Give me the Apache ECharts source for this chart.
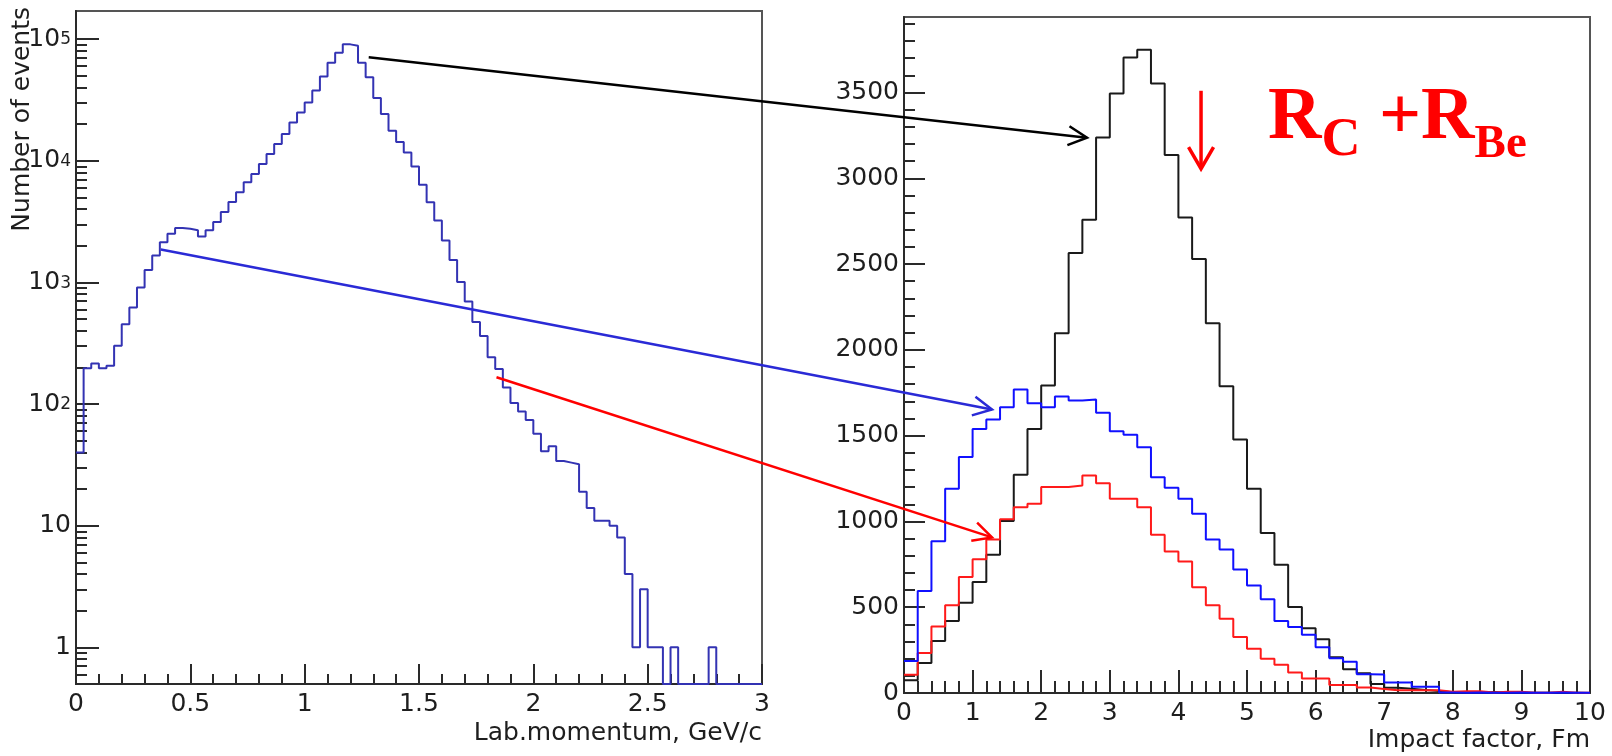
<!DOCTYPE html>
<html>
<head>
<meta charset="utf-8">
<script src="https://cdn.jsdelivr.net/npm/echarts@6/dist/echarts.min.js"></script>
<style>
  html, body { margin: 0; padding: 0; background: #ffffff; }
  #chart { width: 1612px; height: 756px; }
</style>
</head>
<body>
<div id="chart"></div>
<script>
// Lab momentum spectrum: 90 equal bins over 0–3 GeV/c
const momentumRange = [0, 3];
const momentumCounts = [
  40, 197, 215, 197, 206, 301, 453, 621, 906, 1262,
  1664, 2138, 2507, 2800, 2760, 2686, 2383, 2686, 3140, 3795,
  4585, 5500, 6640, 7780, 9400, 11350, 13700, 16550, 20600, 24900,
  30060, 37700, 49100, 63900, 77000, 90400, 88200, 63900, 48500, 32700,
  24150, 17600, 14230, 11700, 8980, 6350, 4550, 3220, 2206, 1524,
  1005, 695, 473, 363, 242, 194, 137, 102, 87, 74,
  57, 41, 45, 34, 33, 32, 19, 14, 11, 11,
  10, 8, 4, 1, 3, 1, 1, 0, 1, 0,
  0, 0, 0, 1, 0, 0, 0, 0, 0, 0
];

// Impact-parameter distributions: 50 equal bins over 0–10 Fm
const impactRange = [0, 10];
const impactTotal = [
  74, 175, 303, 419, 526, 647, 806, 1002, 1272, 1538,
  1792, 2097, 2565, 2759, 3238, 3494, 3704, 3749, 3553, 3136,
  2772, 2530, 2155, 1788, 1478, 1190, 932, 748, 501, 377,
  314, 208, 139, 115, 52, 30, 25, 17, 12, 4,
  3, 2, 6, 2, 1, 1, 1, 0, 1, 0
];
const impactLowMomentum = [
  186, 594, 885, 1190, 1375, 1538, 1594, 1666, 1769, 1689,
  1666, 1728, 1705, 1710, 1633, 1526, 1505, 1433, 1258, 1196,
  1132, 1045, 895, 837, 720, 627, 546, 419, 384, 340,
  266, 202, 182, 109, 108, 61, 61, 37, 37, 3,
  2, 3, 2, 2, 3, 2, 2, 3, 1, 1
];
const impactHighMomentum = [
  107, 233, 388, 511, 676, 779, 895, 1012, 1083, 1103,
  1200, 1200, 1210, 1268, 1223, 1132, 1132, 1083, 922, 825,
  767, 617, 511, 433, 326, 258, 200, 164, 120, 84,
  84, 47, 47, 32, 24, 16, 16, 16, 16, 8,
  10, 10, 3, 7, 7, 2, 2, 8, 1, 1
];

// Axis ranges, tick values and titles
const momentumAxis = [0, 3, 0.5];
const countsLogAxis = [0.5, 170000];
const logMajorTicks = [1, 10, 100, 1000, 10000, 100000];
const impactAxis = [0, 10, 1];
const countsLinAxis = [0, 3940];
const linMajorTicks = [0, 500, 1000, 1500, 2000, 2500, 3000, 3500];
const axisTitles = ['Lab.momentum, GeV/c', 'Impact factor, Fm', 'Number of events'];

// Arrows linking the momentum regions to their impact distributions
// (start on the momentum plot, tip on the impact plot)
const linkFrom = [[1.28, 71000], [0.371, 1860], [1.839, 166]];
const linkTo = [[2.668, 3236], [1.283, 1652], [1.283, 907]];
const linkColors = ['#000000', '#2a2ad6', '#ff0000'];
// Downward marker on the impact plot: [x, top, tip]
const markerAt = [4.33, 3510, 3056];

const FONT = 'DejaVu Sans';
const TEXT = '#1e1e1e';
const AXIS = '#2a2a2a';

// Minor ticks of the log axis: 2..9 of each decade, plus 0.6..0.9
const logMinorTicks = [0.6, 0.7, 0.8, 0.9];
for (let d = 1; d <= 10000; d *= 10) for (let m = 2; m <= 9; m++) logMinorTicks.push(m * d);
const linMinorTicks = [];
for (let v = 100; v < countsLinAxis[1]; v += 100) if (v % 500 !== 0) linMinorTicks.push(v);

// Histogram outline as step points: left edge of every bin, plus the closing edge
function stepData(counts, range, floor) {
  const w = (range[1] - range[0]) / counts.length;
  const pts = counts.map((c, i) => [range[0] + i * w, Math.max(c, floor)]);
  pts.push([range[1], Math.max(counts[counts.length - 1], floor)]);
  return pts;
}

function histSeries(data, xi, yi, color) {
  return {
    type: 'line', xAxisIndex: xi, yAxisIndex: yi, data: data, step: 'end',
    showSymbol: false, symbol: 'none', silent: true, clip: true,
    lineStyle: { color: color, width: 2 }, z: 3
  };
}

const labelStyle = { fontFamily: FONT, fontSize: 25, color: TEXT };
const tickStyle = { color: AXIS, width: 2 };
const plainNumber = function (v) { return String(v); };

function xAxisCfg(grid, rng, majorLen, minorLen) {
  return {
    gridIndex: grid, type: 'value', min: rng[0], max: rng[1], interval: rng[2],
    axisLine: { show: true, onZero: false, lineStyle: { color: AXIS, width: 2 } },
    axisTick: { show: true, inside: true, length: majorLen, lineStyle: tickStyle },
    minorTick: { show: true, splitNumber: 5, length: minorLen, lineStyle: tickStyle },
    axisLabel: Object.assign({ margin: 8, formatter: plainNumber }, labelStyle),
    splitLine: { show: false }, minorSplitLine: { show: false }
  };
}

const chart = echarts.init(document.getElementById('chart'), null, { renderer: 'canvas' });

chart.setOption({
  animation: false,
  backgroundColor: '#ffffff',
  grid: [
    { left: 76, top: 11, width: 686, height: 673, show: true, borderColor: '#555555', borderWidth: 2, containLabel: false, outerBoundsMode: 'none' },
    { left: 904, top: 17, width: 686, height: 676, show: true, borderColor: '#555555', borderWidth: 2, containLabel: false, outerBoundsMode: 'none' }
  ],
  xAxis: [
    xAxisCfg(0, momentumAxis, 20, 10),
    xAxisCfg(1, impactAxis, 23, 12)
  ],
  yAxis: [
    {
      gridIndex: 0, type: 'log', logBase: 10, min: countsLogAxis[0], max: countsLogAxis[1], position: 'left',
      axisLine: { show: true, lineStyle: { color: AXIS, width: 2 } },
      axisTick: { show: true, inside: true, length: 23, lineStyle: tickStyle, customValues: logMajorTicks },
      axisLabel: {
        margin: 5, fontFamily: FONT, fontSize: 25, color: TEXT, customValues: logMajorTicks,
        formatter: function (v) {
          const e = Math.round(Math.log10(v));
          if (e < 2) return String(Math.round(v));
          return '{base|10}{sup|' + e + '}';
        },
        rich: {
          base: { fontFamily: FONT, fontSize: 25, color: TEXT, lineHeight: 25, padding: [12, 0, 0, 0], verticalAlign: 'bottom' },
          sup: { fontFamily: FONT, fontSize: 17, color: TEXT, lineHeight: 17, padding: [5, 0, 0, 0], verticalAlign: 'top' }
        }
      },
      splitLine: { show: false }, minorTick: { show: false }
    },
    {
      gridIndex: 0, type: 'log', logBase: 10, min: countsLogAxis[0], max: countsLogAxis[1], position: 'left',
      axisLine: { show: false },
      axisTick: { show: true, inside: true, length: 11, lineStyle: tickStyle, customValues: logMinorTicks },
      axisLabel: { show: false }, splitLine: { show: false }
    },
    {
      gridIndex: 1, type: 'value', min: countsLinAxis[0], max: countsLinAxis[1], position: 'left',
      axisLine: { show: true, onZero: false, lineStyle: { color: AXIS, width: 2 } },
      axisTick: { show: true, inside: true, length: 21, lineStyle: tickStyle, customValues: linMajorTicks },
      axisLabel: Object.assign({ margin: 5, customValues: linMajorTicks, formatter: plainNumber }, labelStyle),
      splitLine: { show: false }
    },
    {
      gridIndex: 1, type: 'value', min: countsLinAxis[0], max: countsLinAxis[1], position: 'left',
      axisLine: { show: false },
      axisTick: { show: true, inside: true, length: 11, lineStyle: tickStyle, customValues: linMinorTicks },
      axisLabel: { show: false }, splitLine: { show: false }
    }
  ],
  series: [
    histSeries(stepData(momentumCounts, momentumRange, countsLogAxis[0]), 0, 0, '#3333b3'),
    histSeries(stepData(impactTotal, impactRange, 0), 1, 2, '#1a1a1a'),
    histSeries(stepData(impactHighMomentum, impactRange, 0), 1, 2, '#ff1a1a'),
    histSeries(stepData(impactLowMomentum, impactRange, 0), 1, 2, '#1010ff')
  ]
});

// Open V arrowhead at tip, arms pointing back toward tail
function arrowHead(tip, tail, len, deg) {
  const a = Math.atan2(tail[1] - tip[1], tail[0] - tip[0]);
  const r = deg * Math.PI / 180;
  return [
    [tip[0] + len * Math.cos(a + r), tip[1] + len * Math.sin(a + r)],
    [tip[0], tip[1]],
    [tip[0] + len * Math.cos(a - r), tip[1] + len * Math.sin(a - r)]
  ];
}

const graphics = [];

// Axis titles, placed against the plot corners
const leftEnd = chart.convertToPixel({ gridIndex: 0 }, [momentumAxis[1], countsLogAxis[0]]);
const rightEnd = chart.convertToPixel({ gridIndex: 1 }, [impactAxis[1], countsLinAxis[0]]);
const leftTop = chart.convertToPixel({ gridIndex: 0 }, [momentumAxis[0], countsLogAxis[1]]);
const titleFont = '25px "' + FONT + '"';
graphics.push({
  type: 'text', silent: true, z: 50, x: leftEnd[0], y: leftEnd[1] + 49,
  style: { text: axisTitles[0], font: titleFont, fill: TEXT, align: 'right', verticalAlign: 'middle' }
});
graphics.push({
  type: 'text', silent: true, z: 50, x: rightEnd[0], y: rightEnd[1] + 47,
  style: { text: axisTitles[1], font: titleFont, fill: TEXT, align: 'right', verticalAlign: 'middle' }
});
graphics.push({
  type: 'text', silent: true, z: 50, x: leftTop[0] - 54, y: leftTop[1] - 4, rotation: Math.PI / 2,
  style: { text: axisTitles[2], font: titleFont, fill: TEXT, align: 'right', verticalAlign: 'middle' }
});

linkFrom.forEach(function (from, i) {
  const p0 = chart.convertToPixel({ gridIndex: 0 }, from);
  const p1 = chart.convertToPixel({ gridIndex: 1 }, linkTo[i]);
  graphics.push({
    type: 'line', silent: true, z: 100,
    shape: { x1: p0[0], y1: p0[1], x2: p1[0], y2: p1[1] },
    style: { stroke: linkColors[i], lineWidth: 2.5 }
  });
  graphics.push({
    type: 'polyline', silent: true, z: 100,
    shape: { points: arrowHead(p1, p0, 21, 27) },
    style: { stroke: linkColors[i], lineWidth: 2.5, fill: null }
  });
});

const mTop = chart.convertToPixel({ gridIndex: 1 }, [markerAt[0], markerAt[1]]);
const mTip = chart.convertToPixel({ gridIndex: 1 }, [markerAt[0], markerAt[2]]);
graphics.push({
  type: 'line', silent: true, z: 100,
  shape: { x1: mTop[0], y1: mTop[1], x2: mTip[0], y2: mTip[1] },
  style: { stroke: '#ff0000', lineWidth: 3.5 }
});
graphics.push({
  type: 'polyline', silent: true, z: 100,
  shape: { points: arrowHead(mTip, mTop, 25, 30) },
  style: { stroke: '#ff0000', lineWidth: 3.5, fill: null }
});

// R_C + R_Be label
graphics.push({
  type: 'text', silent: true, z: 100, x: 1268, y: 168,
  style: {
    text: '{big|R}{subC|C}{big| +R}{subB|Be}',
    align: 'left', verticalAlign: 'bottom',
    rich: {
      big: { fontFamily: 'Liberation Serif', fontWeight: 'bold', fontSize: 74, fill: '#ff0000', lineHeight: 80, padding: [0, 0, 12, 0], verticalAlign: 'bottom' },
      subC: { fontFamily: 'Liberation Serif', fontWeight: 'bold', fontSize: 54, fill: '#ff0000', lineHeight: 34, verticalAlign: 'bottom' },
      subB: { fontFamily: 'Liberation Serif', fontWeight: 'bold', fontSize: 47, fill: '#ff0000', lineHeight: 30, verticalAlign: 'bottom' }
    }
  }
});

chart.setOption({ graphic: graphics });
</script>
</body>
</html>
